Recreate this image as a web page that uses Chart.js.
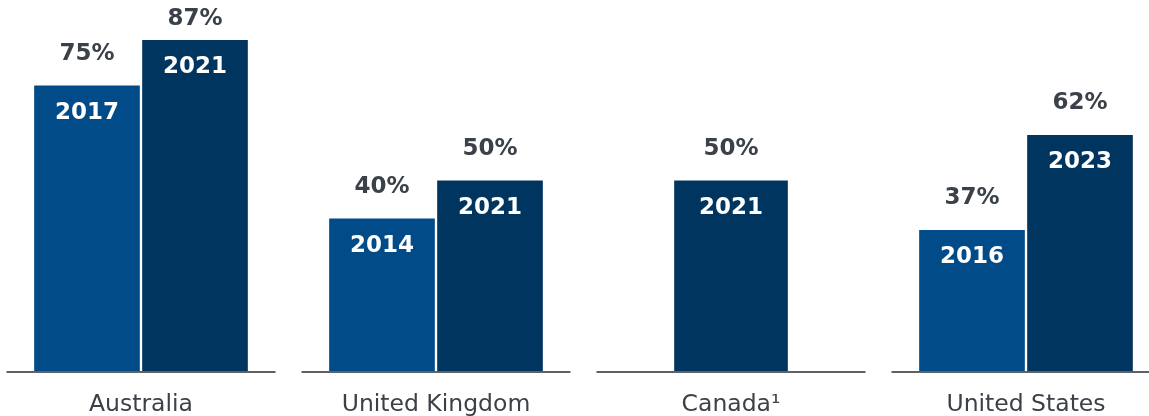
<!DOCTYPE html>
<html>
<head>
<meta charset="utf-8">
<title>Adoption by country</title>
<script src="https://cdn.jsdelivr.net/npm/chart.js@4.4.1/dist/chart.umd.min.js"></script>
<style>
  html, body { margin: 0; padding: 0; background: #fff; }
  #wrap { width: 1149px; height: 416px; position: relative; }
</style>
</head>
<body>
<div id="wrap"><canvas id="country-chart"></canvas></div>
<script>
(function () {
  'use strict';

  // Chart data.
  const countries = ['Australia', 'United Kingdom', 'Canada\u00b9', 'United States'];
  const earlierValues = [75, 40, null, 37];
  const earlierYears = ['2017', '2014', null, '2016'];
  const laterValues = [87, 50, 50, 62];
  const laterYears = ['2021', '2021', '2021', '2023'];

  const COLORS = {
    earlier: '#014b88',
    later: '#00355f',
    text: '#3b4149',
    axisText: '#3c4048',
    baseline: '#5d6269',
    inside: '#ffffff'
  };

  const FONT = "'DejaVu Sans', Verdana, sans-serif";

  /**
   * Draws a grey baseline segment under each country group.
   */
  const groupBaselines = {
    id: 'groupBaselines',
    afterDatasetsDraw: function (chart) {
      const ctx = chart.ctx;
      const xScale = chart.scales.x;
      const y = chart.scales.y.getPixelForValue(0) + 1;
      ctx.save();
      ctx.strokeStyle = COLORS.baseline;
      ctx.lineWidth = 2;
      countries.forEach(function (c, i) {
        const cx = xScale.getPixelForValue(i);
        ctx.beginPath();
        ctx.moveTo(cx - 134.5, y);
        ctx.lineTo(cx + 134.5, y);
        ctx.stroke();
      });
      ctx.restore();
    }
  };

  /**
   * Writes the year inside each bar and the percentage above it.
   */
  const barLabels = {
    id: 'barLabels',
    afterDatasetsDraw: function (chart) {
      const ctx = chart.ctx;
      ctx.save();
      ctx.textAlign = 'center';
      ctx.textBaseline = 'middle';
      chart.data.datasets.forEach(function (ds, di) {
        const meta = chart.getDatasetMeta(di);
        meta.data.forEach(function (bar, i) {
          const v = ds.data[i];
          if (v === null || v === undefined) return;
          ctx.font = 'bold 23px ' + FONT;
          ctx.fillStyle = COLORS.inside;
          ctx.fillText(ds.years[i], bar.x, bar.y + 27);
          ctx.fillStyle = COLORS.text;
          ctx.fillText(v + '%', bar.x, Math.max(19, bar.y - 32));
        });
      });
      ctx.restore();
    }
  };

  // Canada only has one survey, so it gets its own slightly wider bar.
  const laterMain = laterValues.map(function (v, i) { return earlierValues[i] === null ? null : v; });
  const laterSingle = laterValues.map(function (v, i) { return earlierValues[i] === null ? v : null; });

  new Chart(document.getElementById('country-chart'), {
    type: 'bar',
    data: {
      labels: countries,
      datasets: [{
        data: earlierValues,
        years: earlierYears,
        backgroundColor: COLORS.earlier
      }, {
        data: laterMain,
        years: laterYears,
        backgroundColor: COLORS.later
      }, {
        data: laterSingle,
        years: laterYears,
        backgroundColor: COLORS.later,
        barThickness: 113,
        maxBarThickness: 113
      }]
    },
    options: {
      responsive: true,
      maintainAspectRatio: false,
      animation: false,
      layout: {
        padding: { left: 141, right: 123, top: 0, bottom: 0 }
      },
      datasets: {
        bar: {
          skipNull: true,
          barThickness: 108,
          maxBarThickness: 105,
          borderWidth: 0,
          clip: false
        }
      },
      plugins: {
        legend: { display: false },
        tooltip: { enabled: false }
      },
      scales: {
        x: {
          offset: false,
          grid: { display: false, drawTicks: false },
          border: { display: false },
          ticks: {
            color: COLORS.axisText,
            font: { family: FONT, size: 23.5 },
            padding: 20,
            maxRotation: 0,
            autoSkip: false
          },
          // keep the axis strip a fixed height under the bars
          afterFit: function (scale) {
            scale.height = 45;
          }
        },
        y: {
          display: false,
          min: 0,
          max: 97.6
        }
      }
    },
    plugins: [groupBaselines, barLabels]
  });
})();
</script>
</body>
</html>
